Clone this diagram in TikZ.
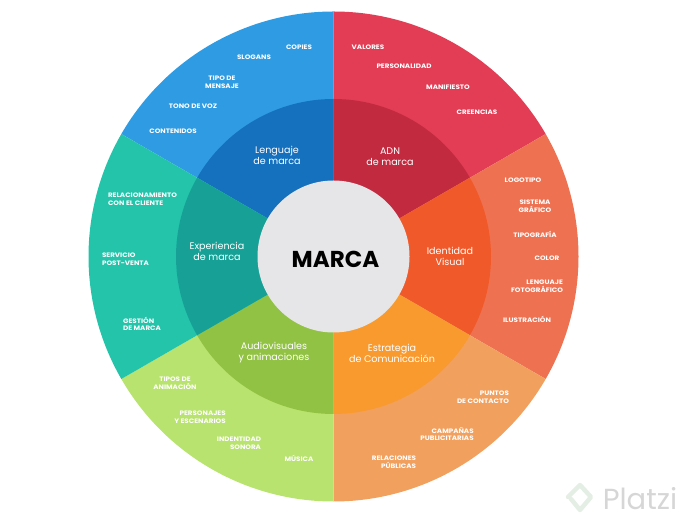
\documentclass[tikz,border=0pt]{standalone}
\usepackage{fontspec}
\setmainfont{Poppins}
\newfontfamily\itemfont[FakeStretch=1.12]{Poppins}
\usetikzlibrary{positioning}
\definecolor{blueout}{HTML}{2F9BE3}
\definecolor{bluein}{HTML}{1570BE}
\definecolor{redout}{HTML}{E23D55}
\definecolor{redin}{HTML}{C22A3F}
\definecolor{coralout}{HTML}{EE7252}
\definecolor{coralin}{HTML}{F05A2B}
\definecolor{orangeout}{HTML}{F2A05E}
\definecolor{orangein}{HTML}{F99A2E}
\definecolor{greenout}{HTML}{B8E36E}
\definecolor{greenin}{HTML}{92C244}
\definecolor{tealout}{HTML}{24C4AB}
\definecolor{tealin}{HTML}{17A196}
\definecolor{corefill}{HTML}{E6E6E8}
\tikzset{
  item/.style={text=white, align=center, inner sep=0pt, font=\itemfont\fontsize{6.4}{7.6}\selectfont\bfseries},
  area/.style={text=white, align=center, inner sep=0pt, font=\fontsize{9.6}{11}\selectfont},
  core/.style={circle, fill=corefill, minimum size=152pt, inner sep=0pt}
}
\begin{document}
\begin{tikzpicture}[x=1pt,y=1pt]
	\useasboundingbox (0,0) rectangle (684,524);
	\coordinate (mid) at (333.5,267.5);

	% sectors
	\foreach \a/\b/\co/\ci in {90/150/blueout/bluein, 30/90/redout/redin, -30/30/coralout/coralin, -90/-30/orangeout/orangein, -150/-90/greenout/greenin, 150/210/tealout/tealin}{
		\fill[\co] (mid) -- ++(\a:245) arc (\a:\b:245) -- cycle;
		\fill[\ci] (mid) -- ++(\a:157.5) arc (\a:\b:157.5) -- cycle;
	}
	\node[core] (hub) at (mid) {};
	\node[inner sep=0pt, font=\fontsize{23}{25}\selectfont\bfseries] (marca) at (335.5,265) {MARCA};

	\node[area] (lenguaje) at (277,369) {Lenguaje\\de marca};
	\node[area] (adn) at (390,367) {ADN\\de marca};
	\node[area] (identidad) at (450,268) {Identidad\\Visual};
	\node[area] (estrategia) at (392,171) {Estrategia\\de Comunicación};
	\node[area] (audio) at (274,171) {Audiovisuales\\y animaciones};
	\node[area] (experiencia) at (217,273) {Experiencia\\de marca};

	% blue
	\node[item] (copies) at (299,477) {COPIES};
	\node[item] (slogans) at (254,467) {SLOGANS};
	\node[item] (tipo) at (222,442) {TIPO DE\\MENSAJE};
	\node[item] (tono) at (193,418) {TONO DE VOZ};
	\node[item] (contenidos) at (173,393) {CONTENIDOS};
	% red
	\node[item] (valores) at (368,477) {VALORES};
	\node[item] (personalidad) at (404,458) {PERSONALIDAD};
	\node[item] (manifiesto) at (448,437) {MANIFIESTO};
	\node[item] (creencias) at (477,412) {CREENCIAS};
	% coral
	\node[item] (logotipo) at (523,344) {LOGOTIPO};
	\node[item] (sistema) at (535,318) {SISTEMA\\GRÁFICO};
	\node[item] (tipografia) at (535,290) {TIPOGRAFÍA};
	\node[item] (color) at (547,266) {COLOR};
	\node[item, align=right] (lenguajefoto) at (537,238) {LENGUAJE\\FOTOGRÁFICO};
	\node[item] (ilustracion) at (527,205) {ILUSTRACIÓN};
	% orange
	\node[item, align=right] (puntos) at (483,127) {PUNTOS\\DE CONTACTO};
	\node[item, align=right] (campanas) at (447,90) {CAMPAÑAS\\PUBLICITARIAS};
	\node[item, align=right] (relaciones) at (394,62) {RELACIONES\\PÚBLICAS};
	% green
	\node[item] (musica) at (299,66) {MÚSICA};
	\node[item, align=right] (sonora) at (239,81) {INDENTIDAD\\SONORA};
	\node[item, align=right] (personajes) at (200,107) {PERSONAJES\\Y ESCENARIOS};
	\node[item] (animacion) at (175,141) {TIPOS DE\\ANIMACIÓN};
	% teal
	\node[item, align=left] (gestion) at (142,200) {GESTIÓN\\DE MARCA};
	\node[item, align=left] (servicio) at (125.5,264.5) {SERVICIO\\POST-VENTA};
	\node[item, align=left] (cliente) at (142.5,325) {RELACIONAMIENTO\\CON EL CLIENTE};

	% watermark
	\draw[line width=4.5pt, line join=round, line cap=round, green!35!black!10] (571,25) -- (580,14) -- (591,27) -- (580,39) -- (568,27);
	\node[text=black!16, inner sep=0pt, font=\fontsize{29}{31}\selectfont] (platzi) at (640,25) {Platzi};
\end{tikzpicture}
\end{document}
